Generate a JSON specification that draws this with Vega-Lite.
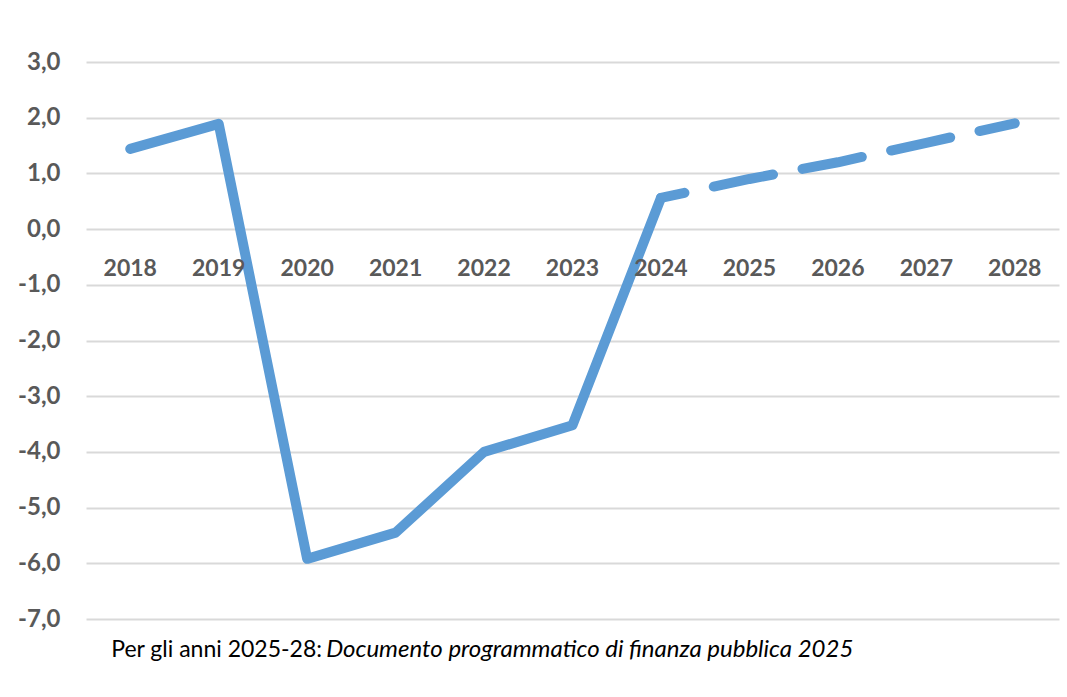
{
  "$schema": "https://vega.github.io/schema/vega-lite/v6.json",
  "width": 973,
  "height": 557,
  "autosize": {"type": "none"},
  "padding": {"left": 86, "top": 62, "right": 8, "bottom": 78},
  "background": "#ffffff",
  "config": {"view": {"stroke": null}},
  "datasets": {
    "saldo": [
      {"anno": "2018", "valore": 1.44},
      {"anno": "2019", "valore": 1.89},
      {"anno": "2020", "valore": -5.92},
      {"anno": "2021", "valore": -5.45},
      {"anno": "2022", "valore": -4.0},
      {"anno": "2023", "valore": -3.52},
      {"anno": "2024", "valore": 0.56},
      {"anno": "2025", "valore": 0.9},
      {"anno": "2026", "valore": 1.2},
      {"anno": "2027", "valore": 1.55},
      {"anno": "2028", "valore": 1.9}
    ],
    "nota": [
      {"anno": "2018", "testo": "Per gli anni 2025-28:", "stile": "normal"},
      {"anno": "2020", "testo": "Documento programmatico di finanza pubblica 2025", "stile": "italic"}
    ]
  },
  "encoding": {
    "x": {
      "field": "anno",
      "type": "ordinal",
      "scale": {"type": "point", "padding": 0.5, "domain": ["2018","2019","2020","2021","2022","2023","2024","2025","2026","2027","2028"]},
      "axis": null
    }
  },
  "layer": [
    {
      "data": {"name": "saldo"},
      "mark": {"type": "line", "color": "#5B9BD5", "strokeWidth": 10, "strokeCap": "round", "strokeJoin": "round"},
      "transform": [{"filter": "toNumber(datum.anno) <= 2024"}],
      "encoding": {
        "y": {
          "field": "valore",
          "type": "quantitative",
          "scale": {"domain": [-7, 3], "nice": false, "zero": false},
          "axis": {
            "values": [-7, -6, -5, -4, -3, -2, -1, 0, 1, 2, 3],
            "title": null,
            "domain": false,
            "ticks": false,
            "grid": true,
            "gridColor": "#D9D9D9",
            "gridWidth": 2,
            "labelFont": "Lato",
            "labelFontWeight": "bold",
            "labelFontSize": 24,
            "labelColor": "#595959",
            "labelPadding": 26,
            "labelExpr": "replace(replace(format(datum.value, '.1f'), '.', ','), '\u2212', '-')"
          }
        }
      }
    },
    {
      "data": {"name": "saldo"},
      "mark": {"type": "line", "color": "#5B9BD5", "strokeWidth": 10, "strokeCap": "round", "strokeJoin": "round", "strokeDash": [60.5, 30], "strokeDashOffset": 36.5},
      "transform": [{"filter": "toNumber(datum.anno) >= 2024"}],
      "encoding": {
        "y": {"field": "valore", "type": "quantitative"}
      }
    },
    {
      "data": {"name": "saldo"},
      "mark": {"type": "text", "font": "Lato", "fontWeight": "bold", "fontSize": 23, "color": "#595959", "baseline": "alphabetic", "align": "center", "dy": 47},
      "encoding": {
        "y": {"datum": 0, "type": "quantitative"},
        "text": {"field": "anno"}
      }
    },
    {
      "data": {"name": "nota"},
      "transform": [{"filter": "datum.stile === 'normal'"}],
      "mark": {"type": "text", "font": "Lato", "fontSize": 23, "color": "#000000", "baseline": "alphabetic", "align": "left", "dx": -19},
      "encoding": {
        "y": {"datum": -7.68, "type": "quantitative"},
        "text": {"field": "testo"}
      }
    },
    {
      "data": {"name": "nota"},
      "transform": [{"filter": "datum.stile === 'italic'"}],
      "mark": {"type": "text", "font": "Lato", "fontSize": 24, "fontStyle": "italic", "color": "#000000", "baseline": "alphabetic", "align": "left", "dx": 19},
      "encoding": {
        "y": {"datum": -7.68, "type": "quantitative"},
        "text": {"field": "testo"}
      }
    }
  ]
}
